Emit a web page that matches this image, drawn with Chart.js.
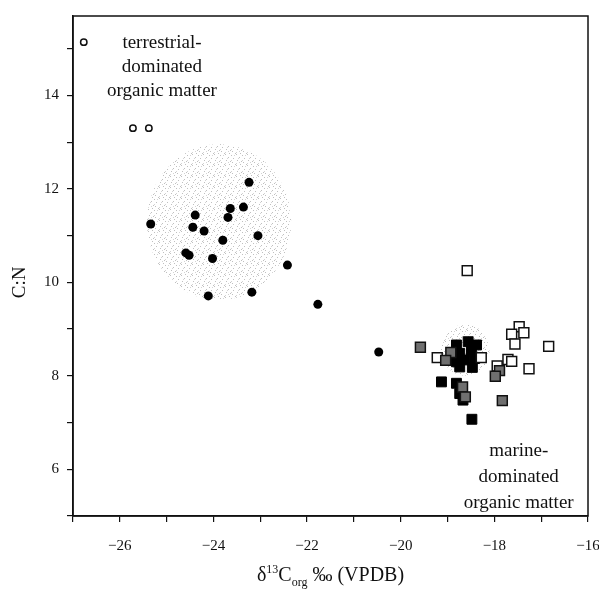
<!DOCTYPE html>
<html>
<head>
<meta charset="utf-8">
<script src="https://cdn.jsdelivr.net/npm/chart.js@4.4.1/dist/chart.umd.min.js"></script>
<style>
    html, body { margin: 0; padding: 0; background: #fff; }
</style>
</head>
<body>
<canvas id="chart" width="599" height="591"></canvas>
<script>
// values (x = d13C org, y = C:N)
var openCircleX = [-26.77, -25.72, -25.38];
var openCircleY = [15.14, 13.30, 13.30];

var filledCircleX = [-23.24, -24.39, -23.64, -23.36, -25.34, -23.69, -24.44, -24.20, -23.80, -23.05, -24.59, -24.52, -24.02, -22.42, -24.11, -23.18, -21.77, -20.47];
var filledCircleY = [12.14, 11.44, 11.58, 11.61, 11.25, 11.39, 11.18, 11.10, 10.90, 11.00, 10.63, 10.58, 10.51, 10.37, 9.71, 9.79, 9.53, 8.51];

var blackSquareX = [-19.13, -18.81, -18.74, -18.67, -18.48, -18.81, -18.56, -18.38, -18.74, -18.49, -18.81, -18.63, -18.42, -18.74, -18.47, -18.88];
var blackSquareY = [7.87, 7.84, 7.62, 7.48, 7.07, 8.66, 8.73, 8.66, 8.48, 8.55, 8.30, 8.34, 8.37, 8.19, 8.18, 8.41];

var graySquareX = [-19.58, -18.93, -19.04, -17.89, -17.98, -18.68, -18.62, -17.83];
var graySquareY = [8.61, 8.50, 8.33, 8.11, 7.99, 7.76, 7.55, 7.47];

var openSquareX = [-18.58, -17.47, -17.63, -17.37, -17.56, -16.84, -19.22, -18.28, -17.71, -17.63, -17.94, -17.26];
var openSquareY = [10.25, 9.05, 8.89, 8.92, 8.68, 8.63, 8.39, 8.39, 8.35, 8.31, 8.21, 8.15];

// stippled source fields (centre and half-widths in data units)
var regionX = [-23.88, -18.62];
var regionY = [11.29, 8.55];
var regionRX = [1.54, 0.52];
var regionRY = [1.67, 0.55];

var xTicks = [-26, -24, -22, -20, -18, -16];
var yTicks = [6, 8, 10, 12, 14];

var SERIF = '"Liberation Serif", "DejaVu Serif", serif';

function points(xs, ys) {
    var out = [];
    for (var i = 0; i < xs.length; i++) out.push({x: xs[i], y: ys[i]});
    return out;
}

function stippleTile() {
    var c = document.createElement('canvas');
    c.width = 11; c.height = 11;
    var g = c.getContext('2d');
    g.fillStyle = 'rgba(150,150,150,0.6)';
    var dots = [[0, 1], [5, 0], [8, 3], [2, 4], [6, 6], [10, 7], [1, 8], [4, 10], [9, 10]];
    dots.forEach(function (d) { g.fillRect(d[0], d[1], 1, 1); });
    g.fillStyle = 'rgba(170,170,170,0.5)';
    [[3, 1], [7, 4], [0, 6], [8, 8], [5, 9]].forEach(function (d) { g.fillRect(d[0], d[1], 1, 1); });
    return c;
}

function drawXTitle(ctx, cx, baseline) {
    var big = '20px ' + SERIF, small = '12px ' + SERIF;
    var parts = [['\u03B4', big, 0], ['13', small, -8], ['C', big, 0], ['org', small, 5], [' \u2030 (VPDB)', big, 0]];
    var total = 0;
    parts.forEach(function (p) { ctx.font = p[1]; p.push(ctx.measureText(p[0]).width); total += p[3]; });
    var x = cx - total / 2;
    ctx.textAlign = 'left';
    ctx.textBaseline = 'alphabetic';
    parts.forEach(function (p) {
        ctx.font = p[1];
        ctx.fillText(p[0], x, baseline + p[2]);
        x += p[3];
    });
}

var decor = {
    id: 'decor',
    beforeDatasetsDraw: function (chart) {
        var ctx = chart.ctx, xs = chart.scales.x, ys = chart.scales.y;
        ctx.save();
        ctx.fillStyle = ctx.createPattern(stippleTile(), 'repeat');
        for (var i = 0; i < regionX.length; i++) {
            var cx = xs.getPixelForValue(regionX[i]), cy = ys.getPixelForValue(regionY[i]);
            var rx = Math.abs(xs.getPixelForValue(regionX[i] + regionRX[i]) - cx);
            var ry = Math.abs(ys.getPixelForValue(regionY[i] + regionRY[i]) - cy);
            ctx.beginPath();
            ctx.ellipse(cx, cy, rx, ry, 0, 0, Math.PI * 2);
            ctx.fill();
        }
        ctx.restore();
    },
    afterDraw: function (chart) {
        var ctx = chart.ctx, a = chart.chartArea, xs = chart.scales.x, ys = chart.scales.y;
        ctx.save();
        ctx.strokeStyle = '#111';
        ctx.lineWidth = 1.5;
        ctx.strokeRect(a.left, a.top, a.right - a.left, a.bottom - a.top);

        ctx.fillStyle = '#111';
        ctx.font = '19px ' + SERIF;
        ctx.textAlign = 'center';
        ctx.textBaseline = 'middle';
        var tx = xs.getPixelForValue(-25.1);
        ['terrestrial-', 'dominated', 'organic matter'].forEach(function (t, i) {
            ctx.fillText(t, tx, ys.getPixelForValue(15.12) + i * 24);
        });
        var mx = xs.getPixelForValue(-17.48);
        ['marine-', 'dominated', 'organic matter'].forEach(function (t, i) {
            ctx.fillText(t, mx, ys.getPixelForValue(6.4) + i * 26);
        });

        // y title
        ctx.save();
        ctx.translate(20, ys.getPixelForValue(10));
        ctx.rotate(-Math.PI / 2);
        ctx.font = '19px ' + SERIF;
        ctx.fillText('C:N', 0, 0);
        ctx.restore();

        drawXTitle(ctx, (a.left + a.right) / 2, 581);
        ctx.restore();
    }
};

var chart = new Chart(document.getElementById('chart'), {
    type: 'scatter',
    data: {
        datasets: [
            {label: 'gray squares', data: points(graySquareX, graySquareY), pointStyle: 'rect', pointRadius: 7,
                backgroundColor: '#6f6f6f', borderColor: '#111', borderWidth: 1.5},
            {label: 'open squares', data: points(openSquareX, openSquareY), pointStyle: 'rect', pointRadius: 7,
                backgroundColor: '#fff', borderColor: '#111', borderWidth: 1.5},
            {label: 'black squares', data: points(blackSquareX, blackSquareY), pointStyle: 'rect', pointRadius: 7,
                backgroundColor: '#000', borderColor: '#000', borderWidth: 1},
            {label: 'filled circles', data: points(filledCircleX, filledCircleY), pointStyle: 'circle', pointRadius: 4.5,
                backgroundColor: '#000', borderColor: '#000', borderWidth: 0},
            {label: 'open circles', data: points(openCircleX, openCircleY), pointStyle: 'circle', pointRadius: 3.2,
                backgroundColor: '#fff', borderColor: '#111', borderWidth: 1.5}
        ]
    },
    options: {
        responsive: false,
        animation: false,
        devicePixelRatio: 1,
        layout: {padding: {top: 16, right: 11, left: 0, bottom: 0}},
        plugins: {legend: {display: false}, tooltip: {enabled: false}},
        elements: {point: {hoverRadius: 0}},
        scales: {
            x: {
                type: 'linear', min: -27, max: -16,
                afterFit: function (s) { s.height = 75; s.paddingLeft = 0; s.paddingRight = 0; },
                border: {display: true, color: '#111', width: 1.5},
                grid: {drawOnChartArea: false, drawTicks: true, tickLength: 6, color: '#111', lineWidth: 1.2},
                ticks: {
                    stepSize: 1, includeBounds: false, autoSkip: false, maxRotation: 0, padding: 15,
                    color: '#111', font: {family: SERIF, size: 15},
                    callback: function (v) { return xTicks.indexOf(v) >= 0 ? '\u2212' + Math.abs(v) : ''; }
                }
            },
            y: {
                type: 'linear', min: 5, max: 15.7,
                afterFit: function (s) { s.width = 73; s.paddingTop = 0; s.paddingBottom = 0; },
                border: {display: true, color: '#111', width: 1.5},
                grid: {drawOnChartArea: false, drawTicks: true, tickLength: 6, color: '#111', lineWidth: 1.2},
                ticks: {
                    stepSize: 1, includeBounds: false, autoSkip: false, padding: 8,
                    color: '#111', font: {family: SERIF, size: 15},
                    callback: function (v) { return yTicks.indexOf(v) >= 0 ? String(v) : ''; }
                }
            }
        }
    },
    plugins: [decor]
});
</script>
</body>
</html>
